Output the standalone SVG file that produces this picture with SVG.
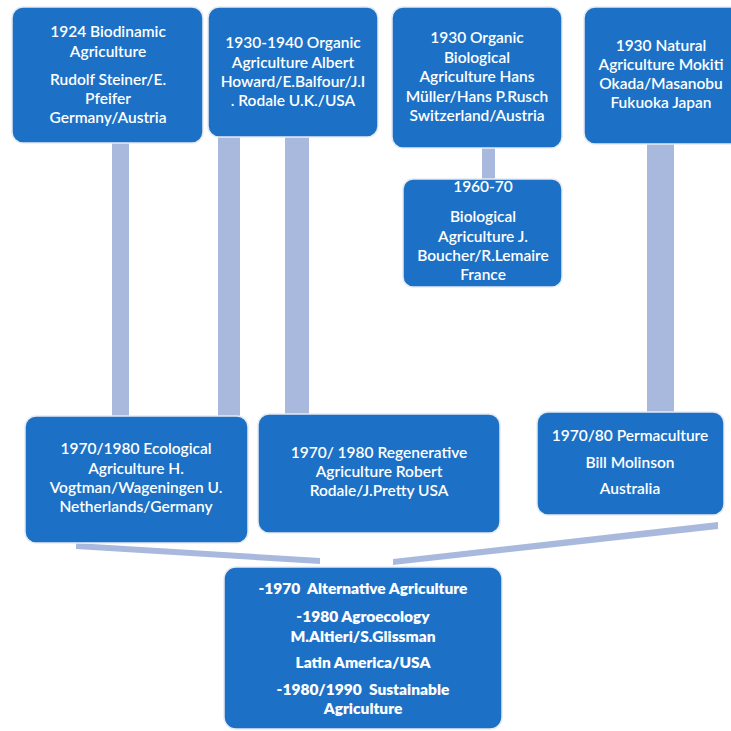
<svg xmlns="http://www.w3.org/2000/svg" width="731" height="731" viewBox="0 0 731 731">
<defs>
<style>
.box{fill:#1C71C6;stroke:#e6eaf2;stroke-width:1.5}
.bar{fill:#A9B9DD}
text{font-family:Lato,"Open Sans","Liberation Sans",sans-serif;font-size:15.5px;fill:#fff;text-anchor:middle;font-weight:600}
.b{font-weight:800;white-space:pre}
</style>
</defs>
<rect width="731" height="731" fill="#fff"/>
<g id="connectors">
<rect class="bar" x="112" y="140" width="17" height="278"/>
<rect class="bar" x="218" y="135" width="22" height="283"/>
<rect class="bar" x="285" y="135" width="24" height="281"/>
<rect class="bar" x="482" y="146" width="13" height="35"/>
<rect class="bar" x="647" y="142" width="27" height="272"/>
<polygon class="bar" points="76,543 320,558 320,564 76,549"/>
<polygon class="bar" points="393,559 718,522 718,529 393,565"/>
</g>
<g id="n1">
<rect class="box" x="12" y="7" width="191" height="136" rx="11"/>
<text x="108" y="37">1924 Biodinamic</text>
<text x="108" y="57">Agriculture</text>
<text x="108" y="85">Rudolf Steiner/E.</text>
<text x="108" y="104">Pfeifer</text>
<text x="108" y="123">Germany/Austria</text>
</g>
<g id="n2">
<rect class="box" x="208" y="7" width="170" height="130" rx="11"/>
<text x="293" y="48">1930-1940 Organic</text>
<text x="293" y="68">Agriculture Albert</text>
<text x="293" y="87">Howard/E.Balfour/J.I</text>
<text x="293" y="106">. Rodale U.K./USA</text>
</g>
<g id="n3">
<rect class="box" x="392" y="7" width="170" height="141" rx="11"/>
<text x="477" y="43">1930 Organic</text>
<text x="477" y="63">Biological</text>
<text x="477" y="82">Agriculture Hans</text>
<text x="477" y="102">Müller/Hans P.Rusch</text>
<text x="477" y="121">Switzerland/Austria</text>
</g>
<g id="n4">
<rect class="box" x="584" y="7" width="160" height="137" rx="11"/>
<text x="661" y="51">1930 Natural</text>
<text x="661" y="70">Agriculture Mokiti</text>
<text x="661" y="89">Okada/Masanobu</text>
<text x="661" y="108">Fukuoka Japan</text>
</g>
<g id="n5">
<rect class="box" x="403" y="179" width="159" height="108" rx="10"/>
<text x="483" y="192">1960-70</text>
<text x="483" y="222">Biological</text>
<text x="483" y="242">Agriculture J.</text>
<text x="483" y="261">Boucher/R.Lemaire</text>
<text x="483" y="280">France</text>
</g>
<g id="n6">
<rect class="box" x="25" y="416" width="223" height="127" rx="11"/>
<text x="136" y="454">1970/1980 Ecological</text>
<text x="136" y="474">Agriculture H.</text>
<text x="136" y="493">Vogtman/Wageningen U.</text>
<text x="136" y="512">Netherlands/Germany</text>
</g>
<g id="n7">
<rect class="box" x="258" y="414" width="242" height="119" rx="11"/>
<text x="379" y="458">1970/ 1980 Regenerative</text>
<text x="379" y="477">Agriculture Robert</text>
<text x="379" y="496">Rodale/J.Pretty USA</text>
</g>
<g id="n8">
<rect class="box" x="537" y="412" width="187" height="103" rx="11"/>
<text x="630" y="441">1970/80 Permaculture</text>
<text x="630" y="468">Bill Molinson</text>
<text x="630" y="494">Australia</text>
</g>
<g id="n9">
<rect class="box" x="224" y="567" width="278" height="162" rx="12"/>
<text class="b" x="363" y="594">-1970  Alternative Agriculture</text>
<text class="b" x="363" y="622">-1980 Agroecology</text>
<text class="b" x="363" y="642">M.Altieri/S.Glissman</text>
<text class="b" x="363" y="668">Latin America/USA</text>
<text class="b" x="363" y="695">-1980/1990  Sustainable</text>
<text class="b" x="363" y="714">Agriculture</text>
</g>
</svg>
